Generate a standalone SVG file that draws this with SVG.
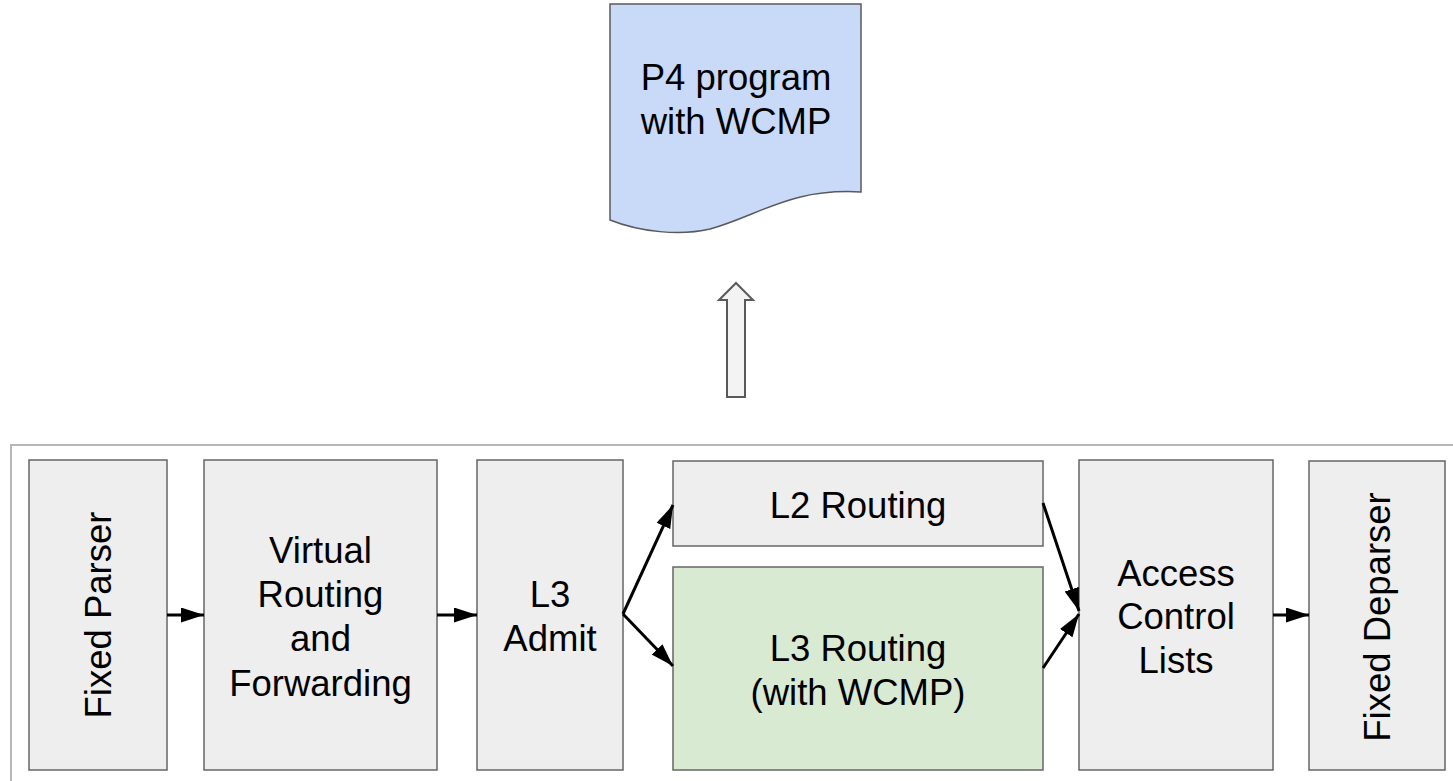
<svg xmlns="http://www.w3.org/2000/svg" width="1453" height="781" viewBox="0 0 1453 781">
  <style>
    .box { fill: #eeeeee; stroke: #666666; stroke-width: 1.5; }
    .green { fill: #d9ead3; }
    .lbl { font-family: "Liberation Sans", Arial, sans-serif; font-size: 36.5px; fill: #000000; text-anchor: middle; }
    .conn { stroke: #000000; stroke-width: 3; fill: none; marker-end: url(#head); }
  </style>
  <defs>
    <marker id="head" markerUnits="userSpaceOnUse" markerWidth="24" markerHeight="16" refX="23" refY="7.5" orient="auto">
      <path d="M0,0 L23,7.5 L0,15 Z" fill="#000000"/>
    </marker>
  </defs>
  <rect width="1453" height="781" fill="#ffffff"/>

  <!-- P4 program document -->
  <g id="p4-program">
    <path d="M610,4 H861 V192 C790,188 760,215 710,229 C680,236 640,232 610,220 Z" fill="#c9daf8" stroke="#595959" stroke-width="1.5"/>
    <text class="lbl" x="736" y="90">P4 program</text>
    <text class="lbl" x="736" y="134">with WCMP</text>
  </g>

  <!-- hollow up arrow -->
  <g id="up-arrow">
    <polygon points="736,283 753,300 745,300 745,397 727,397 727,300 719,300" fill="#f3f3f3" stroke="#595959" stroke-width="2"/>
  </g>

  <!-- pipeline frame -->
  <g id="pipeline">
    <rect x="11" y="445" width="1470" height="400" fill="#ffffff" stroke="#b7b7b7" stroke-width="2"/>
  </g>

  <g id="fixed-parser">
    <rect class="box" x="29" y="460" width="138" height="310"/>
    <text class="lbl" transform="translate(98,615) rotate(-90)" y="13">Fixed Parser</text>
  </g>

  <g id="vrf">
    <rect class="box" x="204" y="460" width="233" height="310"/>
    <text class="lbl" x="320.5" y="563">Virtual</text>
    <text class="lbl" x="320.5" y="607">Routing</text>
    <text class="lbl" x="320.5" y="651">and</text>
    <text class="lbl" x="320.5" y="696">Forwarding</text>
  </g>

  <g id="l3-admit">
    <rect class="box" x="477" y="460" width="146" height="310"/>
    <text class="lbl" x="550" y="607">L3</text>
    <text class="lbl" x="550" y="651">Admit</text>
  </g>

  <g id="l2-routing">
    <rect class="box" x="673" y="461" width="370" height="85"/>
    <text class="lbl" x="858" y="518">L2 Routing</text>
  </g>

  <g id="l3-routing">
    <rect class="box green" x="673" y="567" width="370" height="203"/>
    <text class="lbl" x="858" y="661">L3 Routing</text>
    <text class="lbl" x="858" y="705">(with WCMP)</text>
  </g>

  <g id="acl">
    <rect class="box" x="1079" y="460" width="194" height="310"/>
    <text class="lbl" x="1176" y="586">Access</text>
    <text class="lbl" x="1176" y="629">Control</text>
    <text class="lbl" x="1176" y="673">Lists</text>
  </g>

  <g id="fixed-deparser">
    <rect class="box" x="1309" y="461" width="136" height="309"/>
    <text class="lbl" transform="translate(1377,617) rotate(-90)" y="13">Fixed Deparser</text>
  </g>

  <!-- connectors -->
  <g id="connectors">
    <line class="conn" x1="167" y1="615" x2="204" y2="615"/>
    <line class="conn" x1="437" y1="615" x2="477" y2="615"/>
    <polyline class="conn" points="623,614 673,505"/>
    <polyline class="conn" points="623,614 673,666"/>
    <line class="conn" x1="1043" y1="503" x2="1079" y2="611"/>
    <line class="conn" x1="1043" y1="668" x2="1079" y2="614"/>
    <line class="conn" x1="1273" y1="615" x2="1309" y2="615"/>
  </g>
</svg>
